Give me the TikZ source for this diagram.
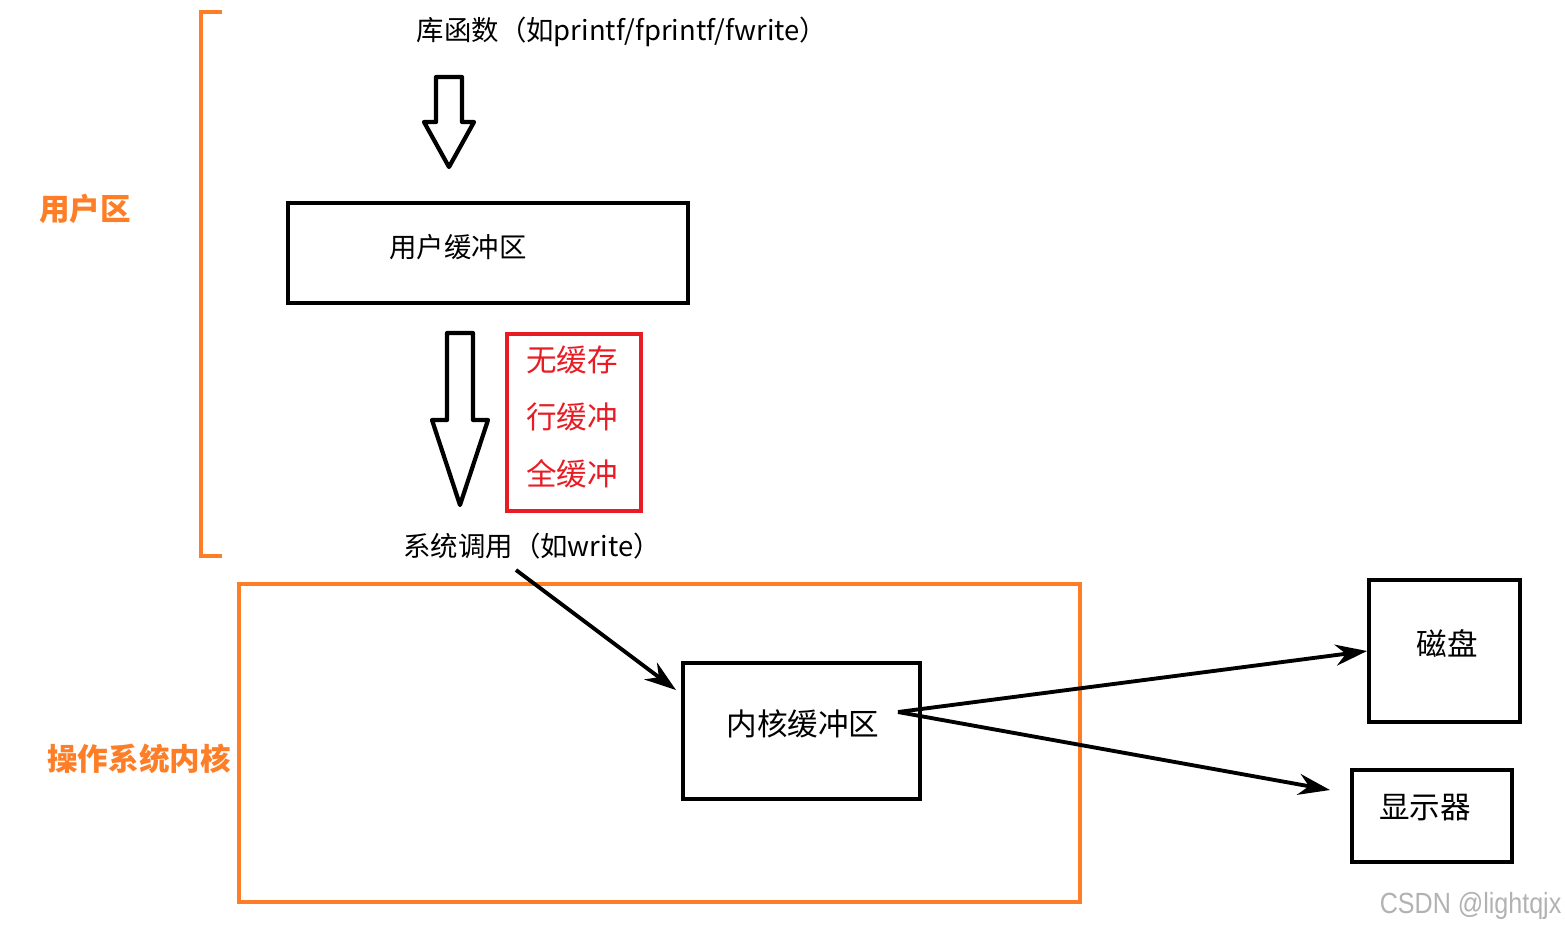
\documentclass[tikz,border=0pt]{standalone}
\usepackage{fontspec}
\setmainfont{Noto Sans CJK SC}
\newfontfamily\markfont{Liberation Sans}
\usetikzlibrary{arrows.meta}
\definecolor{orangeline}{RGB}{253,126,38}
\definecolor{redtext}{RGB}{232,28,36}

\tikzset{
  blackbox/.style={draw,line width=1.1pt,inner sep=0pt},
  hollow/.style={draw,line width=1.2pt,line join=round,fill=white},
  link/.style={line width=1.1pt,-{Stealth[length=9pt,width=6pt]}},
  txt/.style={font=\fontsize{7.8pt}{9pt}\selectfont},
  bigtxt/.style={font=\fontsize{8.7pt}{10pt}\selectfont},
  zonetxt/.style={font=\fontsize{8.7pt}{10pt}\selectfont\bfseries,text=orangeline}
}

\begin{document}
\begin{tikzpicture}
      \useasboundingbox (0,0) rectangle (15.65,-9.34);
      % user area bracket
      \draw [orangeline,line width=0.9pt] (2.22,-0.12) -- (2.01,-0.12) -- (2.01,-5.56) -- (2.22,-5.56);
      \node [zonetxt] (userzone) at (0.85,-2.09) {用户区};
      \node [txt] (libfunc) at (6.22,-0.32) {库函数（如printf/fprintf/fwrite）};
      \draw [hollow] (4.36,-0.77) -- (4.62,-0.77) -- (4.62,-1.22) -- (4.74,-1.22) -- (4.49,-1.67)
      -- (4.24,-1.22) -- (4.36,-1.22) -- cycle;
      \node [blackbox,minimum width=4.0cm,minimum height=1.0cm] (userbuf) at (4.88,-2.53) {};
      \node [txt] at (4.58,-2.47) {用户缓冲区};
      \draw [hollow] (4.47,-3.33) -- (4.73,-3.33) -- (4.73,-4.20) -- (4.88,-4.20) -- (4.60,-5.05)
      -- (4.32,-4.20) -- (4.47,-4.20) -- cycle;
      \node [draw=redtext,line width=0.9pt,minimum width=1.34cm,minimum height=1.77cm,inner sep=0pt] (modes) at (5.74,-4.225) {};
      \node [bigtxt,text=redtext,align=center] at (5.72,-4.17) {无缓存\\[0.22cm]行缓冲\\[0.22cm]全缓冲};
      \node [txt] (syscall) at (5.32,-5.46) {系统调用（如write）};
      \coordinate (sysout) at (5.16,-5.70);
      % kernel area
      \draw [orangeline,line width=1pt] (2.39,-5.84) rectangle (10.80,-9.02);
      \node [zonetxt] (kernzone) at (1.39,-7.59) {操作系统内核};
      \node [blackbox,minimum width=2.37cm,minimum height=1.36cm] (kernbuf) at (8.015,-7.31) {};
      \node [bigtxt] at (8.03,-7.24) {内核缓冲区};
      \coordinate (kernout) at (8.98,-7.12);
      \node [blackbox,minimum width=1.51cm,minimum height=1.42cm] (disk) at (14.445,-6.51) {};
      \node [bigtxt] at (14.47,-6.43) {磁盘};
      \node [blackbox,minimum width=1.60cm,minimum height=0.92cm] (screen) at (14.32,-8.16) {};
      \node [bigtxt] at (14.25,-8.08) {显示器};
      \draw [link] (sysout) -- (6.76,-6.90);
      \draw [link] (kernout) -- (disk.west);
      \draw [link] (kernout) -- (13.30,-7.90);
      \node [font=\markfont\fontsize{8.3pt}{10pt}\selectfont,text=black!30,anchor=east,xscale=0.86,transform shape,inner sep=0pt] (mark) at (15.62,-9.06) {CSDN @lightqjx};
    \end{tikzpicture}
\end{document}
